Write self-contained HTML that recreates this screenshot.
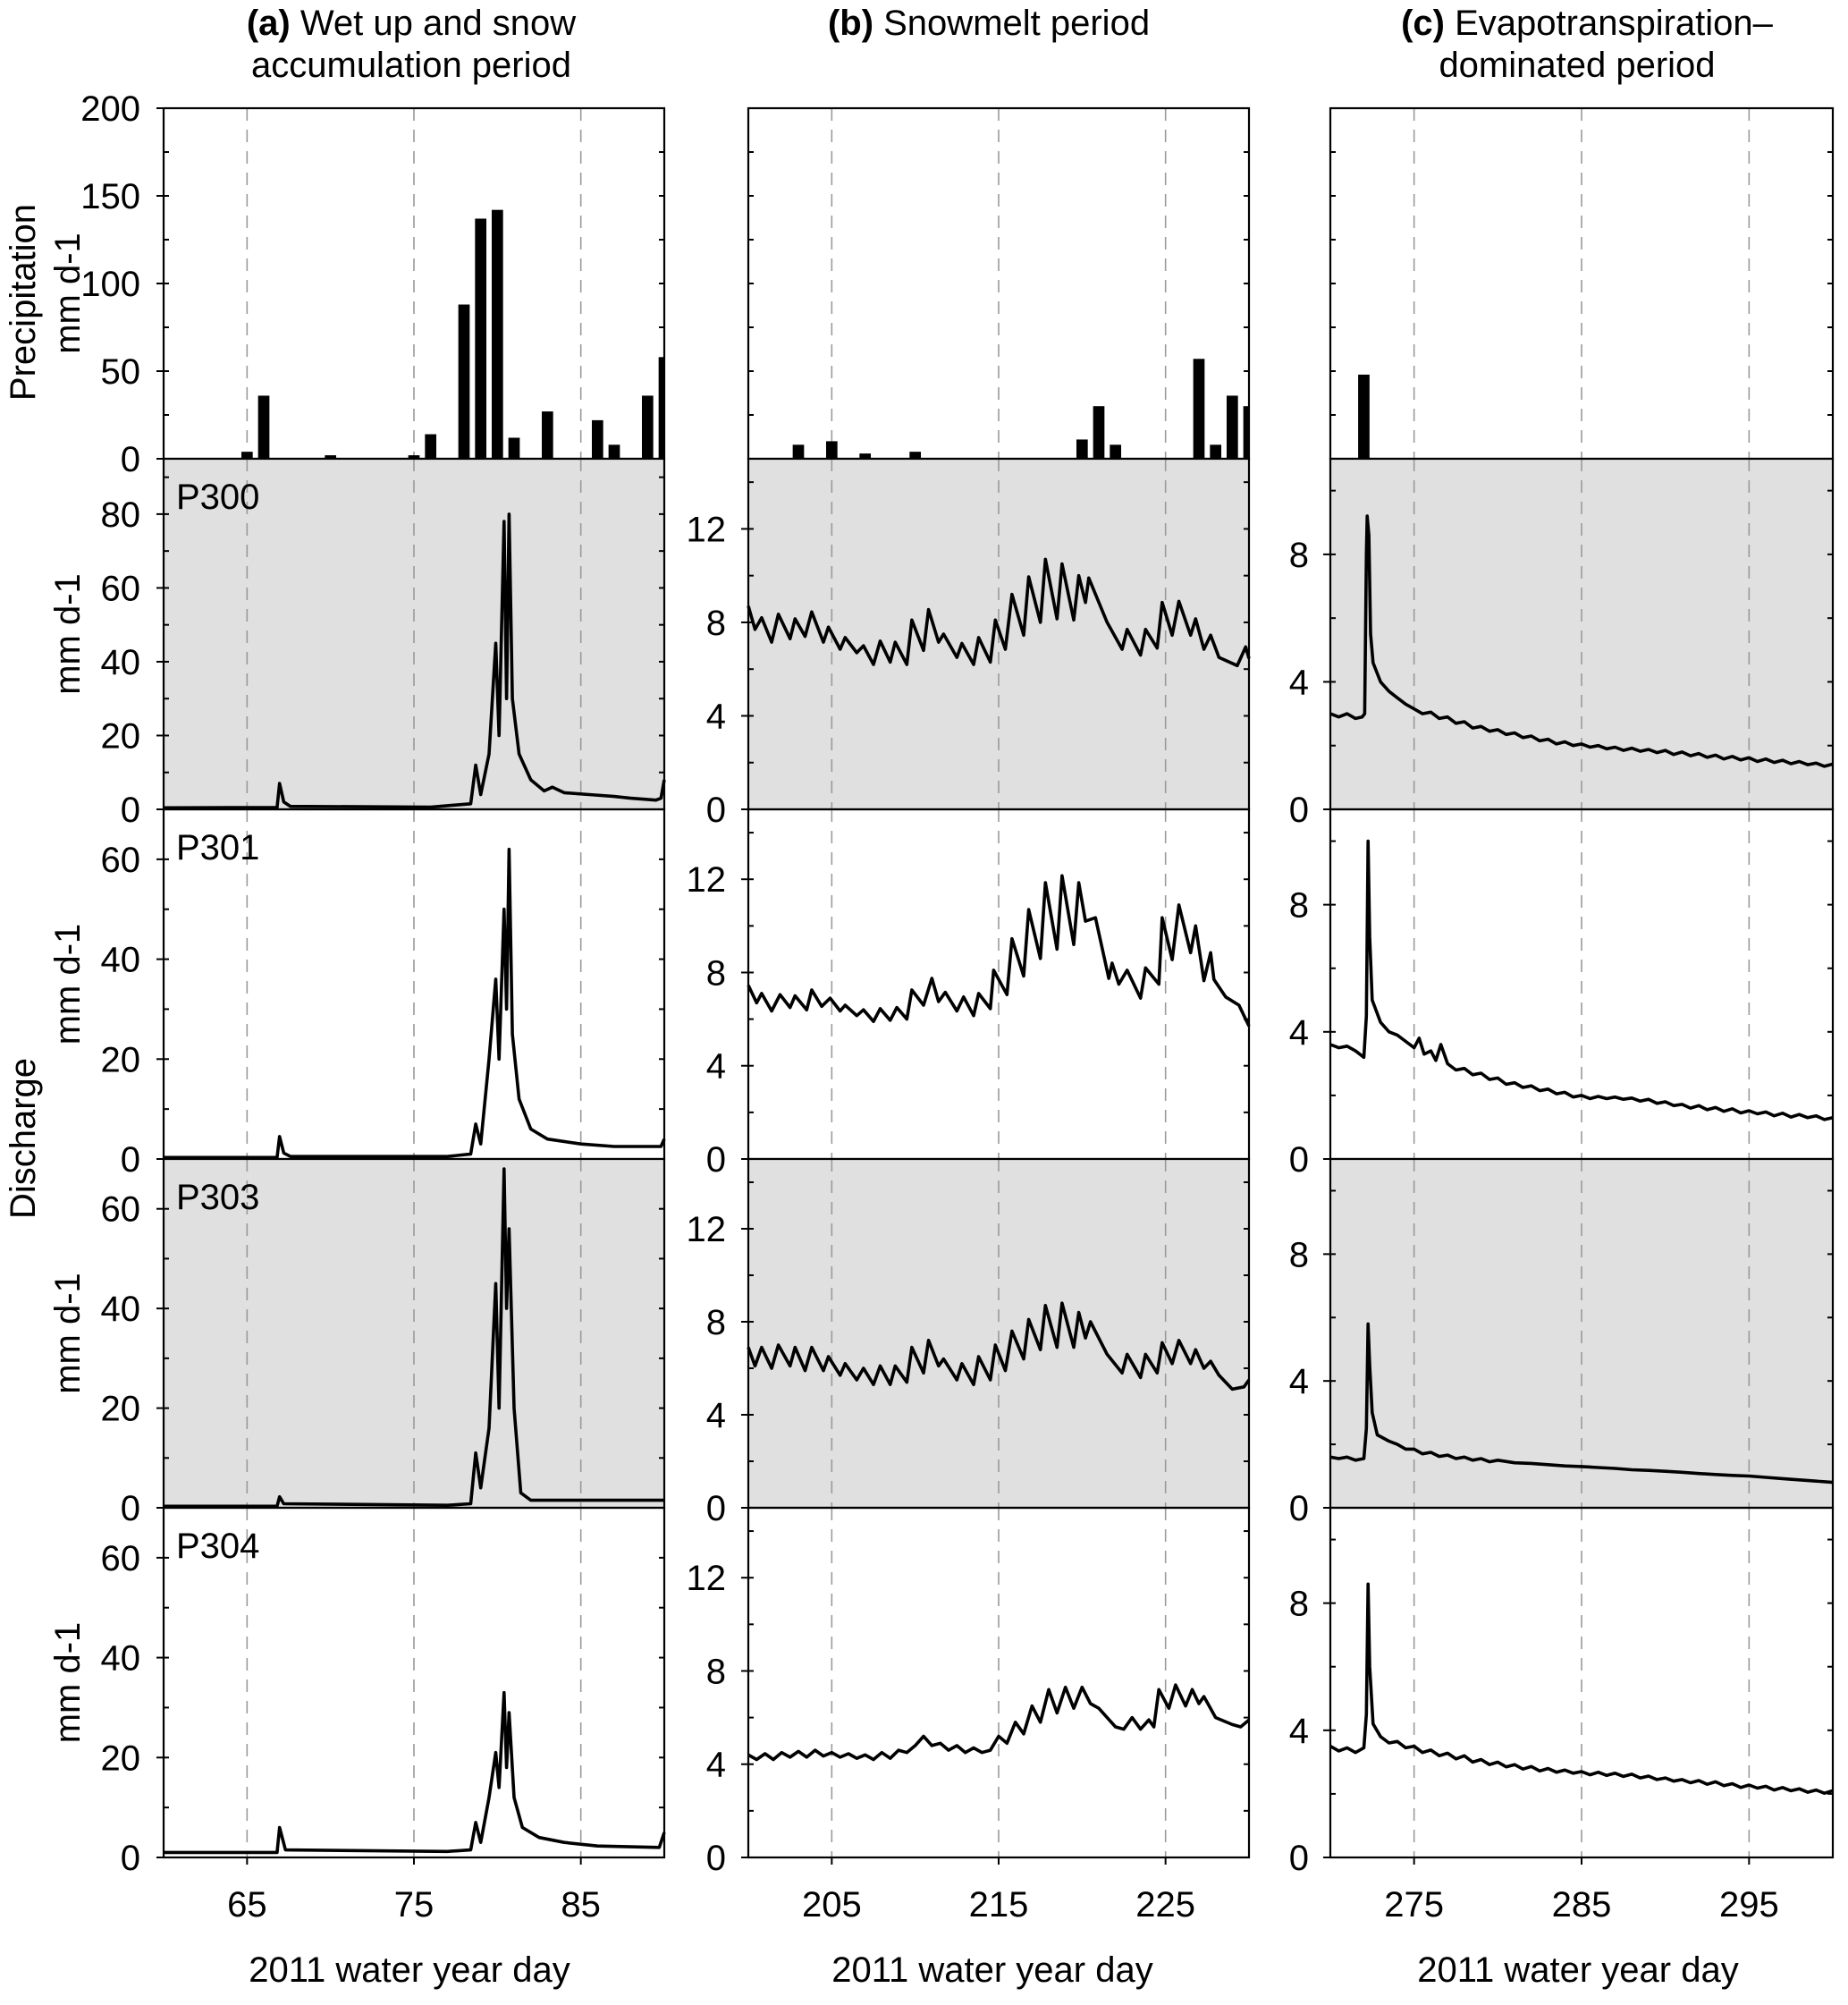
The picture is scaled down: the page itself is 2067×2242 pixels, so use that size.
<!DOCTYPE html>
<html><head><meta charset="utf-8">
<style>
html,body{margin:0;padding:0;background:#fff;}
svg{display:block;font-family:"Liberation Sans",Arial,sans-serif;}
</style></head>
<body>
<svg id="chart" width="2067" height="2242" viewBox="0 0 2067 2242" xmlns="http://www.w3.org/2000/svg">
<g id="titles" font-size="40" text-anchor="middle" fill="#000">
<text x="460" y="39"><tspan font-weight="bold">(a)</tspan> Wet up and snow</text>
<text x="460" y="86">accumulation period</text>
<text x="1106" y="39"><tspan font-weight="bold">(b)</tspan> Snowmelt period</text>
<text x="1775" y="39"><tspan font-weight="bold">(c)</tspan> Evapotranspiration–</text>
<text x="1764" y="86">dominated period</text>
</g>
<g font-size="40" fill="#000" text-anchor="middle">
<text transform="translate(39,338) rotate(-90)">Precipitation</text>
<text transform="translate(89,328) rotate(-90)">mm d-1</text>
<text transform="translate(39,1273) rotate(-90)">Discharge</text>
<text x="458" y="2216">2011 water year day</text>
<text x="1110" y="2216">2011 water year day</text>
<text x="1765" y="2216">2011 water year day</text>
</g>
<g id="plots"></g>
</svg>
<script>
// ---- data ----
const precipDaysA = [65,66,70,75,76,78,79,80,81,83,86,87,89,90];
const precipValsA = [4,36,2,2,14,88,137,142,12,27,22,8,36,58];
const precipDaysB = [203,205,207,210,220,221,222,227,228,229,230];
const precipValsB = [8,10,3,4,11,30,8,57,8,36,30];
const precipDaysC = [272];
const precipValsC = [48];

const xTicksA = [65,75,85];
const xTicksB = [205,215,225];
const xTicksC = [275,285,295];

const a300 = [[60,0.4],[66.8,0.5],[66.95,7],[67.2,2],[67.6,0.8],[76,0.6],[77,1],[78.4,1.5],[78.7,12],[79,4],[79.5,15],[79.9,45],[80.1,20],[80.4,78],[80.55,30],[80.7,80],[80.9,30],[81.3,15],[82,8],[82.8,5],[83.3,6],[84,4.5],[85.5,4],[87,3.5],[88,3],[89.5,2.5],[89.8,3],[90,8]];
const a301 = [[60,0.3],[66.8,0.3],[66.95,4.5],[67.2,1.2],[67.6,0.5],[77,0.5],[78.4,1],[78.7,7],[79,3],[79.5,20],[79.9,36],[80.1,20],[80.4,50],[80.55,30],[80.7,62],[80.9,25],[81.3,12],[82,6],[83,4],[85,3],[87,2.5],[89.8,2.5],[90,4]];
const a303 = [[60,0.3],[66.8,0.3],[66.95,2.2],[67.2,0.8],[77,0.5],[78.4,0.8],[78.7,11],[79,4],[79.5,16],[79.9,45],[80.1,20],[80.4,68],[80.55,40],[80.7,56],[81,20],[81.4,3],[82,1.5],[90,1.5]];
const a304 = [[60,1],[66.8,1],[66.95,6],[67.3,1.5],[77,1.2],[78.4,1.5],[78.7,7],[79,3],[79.5,12],[79.9,21],[80.1,14],[80.4,33],[80.55,18],[80.7,29],[81,12],[81.5,6],[82.5,4],[84,3],[86,2.3],[89.7,2],[90,5]];

const b300 = [[200,8.7],[200.4,7.7],[200.8,8.2],[201.4,7.15],[201.8,8.35],[202.5,7.3],[202.8,8.15],[203.4,7.4],[203.8,8.45],[204.5,7.15],[204.8,7.8],[205.5,6.85],[205.8,7.35],[206.5,6.7],[206.9,7.0],[207.5,6.2],[207.9,7.2],[208.5,6.3],[208.8,7.15],[209.5,6.2],[209.8,8.1],[210.5,6.8],[210.8,8.55],[211.4,7.15],[211.7,7.5],[212.5,6.5],[212.8,7.1],[213.5,6.2],[213.8,7.35],[214.5,6.3],[214.8,8.1],[215.4,6.85],[215.8,9.2],[216.5,7.45],[216.8,9.95],[217.5,8.0],[217.8,10.7],[218.5,8.15],[218.8,10.5],[219.5,8.1],[219.8,10.0],[220.2,8.85],[220.4,9.9],[221.5,8.0],[222.4,6.85],[222.7,7.7],[223.5,6.6],[223.8,7.7],[224.5,6.9],[224.8,8.85],[225.4,7.45],[225.8,8.9],[226.5,7.45],[226.8,8.15],[227.3,6.85],[227.7,7.45],[228.2,6.5],[229.3,6.15],[229.8,6.95],[230,6.45]];
const b301 = [[200,7.45],[200.5,6.7],[200.8,7.1],[201.4,6.35],[201.9,7.05],[202.5,6.5],[202.8,7.0],[203.5,6.4],[203.8,7.25],[204.4,6.55],[204.9,6.9],[205.5,6.35],[205.8,6.6],[206.5,6.15],[206.9,6.4],[207.5,5.9],[207.9,6.45],[208.5,5.95],[208.9,6.5],[209.5,6.0],[209.8,7.25],[210.5,6.6],[211.0,7.75],[211.4,6.75],[211.8,7.15],[212.5,6.35],[212.9,6.95],[213.5,6.15],[213.8,7.1],[214.5,6.45],[214.7,8.1],[215.5,7.05],[215.8,9.45],[216.5,7.85],[216.8,10.7],[217.5,8.6],[217.8,11.85],[218.5,9.0],[218.8,12.15],[219.5,9.2],[219.8,11.85],[220.2,10.2],[220.8,10.35],[221.6,7.75],[221.8,8.4],[222.2,7.5],[222.7,8.1],[223.5,6.9],[223.8,8.2],[224.6,7.5],[224.8,10.35],[225.4,8.55],[225.8,10.9],[226.5,8.85],[226.8,10.0],[227.3,7.65],[227.7,8.85],[227.9,7.7],[228.6,6.95],[229.4,6.6],[230,5.7]];
const b303 = [[200,6.9],[200.4,6.1],[200.8,6.9],[201.4,6.0],[201.8,7.0],[202.5,6.1],[202.8,6.9],[203.4,5.9],[203.8,6.9],[204.5,5.9],[204.8,6.5],[205.5,5.7],[205.8,6.2],[206.5,5.5],[206.9,6.0],[207.5,5.3],[207.9,6.1],[208.5,5.3],[208.8,6.1],[209.5,5.4],[209.8,6.9],[210.5,5.8],[210.8,7.2],[211.4,6.1],[211.7,6.4],[212.5,5.5],[212.8,6.2],[213.5,5.3],[213.8,6.5],[214.5,5.5],[214.8,7.0],[215.4,5.9],[215.8,7.6],[216.5,6.4],[216.8,8.1],[217.5,6.8],[217.8,8.7],[218.5,6.9],[218.8,8.8],[219.5,6.9],[219.8,8.4],[220.2,7.3],[220.5,8.0],[221.5,6.6],[222.4,5.8],[222.7,6.6],[223.5,5.6],[223.8,6.6],[224.5,5.8],[224.8,7.1],[225.4,6.2],[225.8,7.2],[226.5,6.2],[226.8,6.8],[227.3,6.0],[227.7,6.3],[228.2,5.7],[229.0,5.1],[229.7,5.2],[230,5.5]];
const b304 = [[200,4.4],[200.5,4.2],[201,4.45],[201.5,4.2],[202,4.5],[202.5,4.3],[203,4.55],[203.5,4.3],[204,4.6],[204.5,4.35],[205,4.5],[205.5,4.3],[206,4.45],[206.5,4.25],[207,4.4],[207.5,4.2],[208,4.5],[208.5,4.25],[209,4.6],[209.5,4.5],[210,4.8],[210.5,5.2],[211,4.8],[211.5,4.9],[212,4.6],[212.5,4.8],[213,4.5],[213.5,4.7],[214,4.5],[214.5,4.6],[215,5.2],[215.5,4.9],[216,5.8],[216.5,5.3],[217,6.5],[217.5,5.8],[218,7.2],[218.5,6.2],[219,7.3],[219.5,6.4],[220,7.3],[220.5,6.6],[221,6.4],[221.5,6.0],[222,5.6],[222.5,5.5],[223,6.0],[223.5,5.5],[224,5.9],[224.3,5.6],[224.6,7.2],[225.2,6.4],[225.6,7.4],[226.2,6.5],[226.6,7.2],[227,6.6],[227.3,6.9],[228,6.0],[229,5.7],[229.5,5.6],[230,5.9]];

const c300 = [[270,3.0],[270.5,2.9],[271,3.0],[271.5,2.85],[271.9,2.9],[272.05,3.0],[272.15,8.0],[272.2,9.2],[272.3,8.6],[272.4,5.5],[272.55,4.6],[273,4.0],[273.5,3.7],[274,3.5],[274.5,3.3],[275,3.15],[275.5,3.0],[276,3.05],[276.5,2.85],[277,2.9],[277.5,2.7],[278,2.75],[278.5,2.55],[279,2.6],[279.5,2.45],[280,2.5],[280.5,2.35],[281,2.4],[281.5,2.25],[282,2.3],[282.5,2.15],[283,2.2],[283.5,2.05],[284,2.12],[284.5,2.0],[285,2.05],[285.5,1.95],[286,2.0],[286.5,1.9],[287,1.95],[287.5,1.85],[288,1.92],[288.5,1.82],[289,1.88],[289.5,1.78],[290,1.85],[290.5,1.72],[291,1.8],[291.5,1.68],[292,1.75],[292.5,1.63],[293,1.7],[293.5,1.58],[294,1.66],[294.5,1.55],[295,1.62],[295.5,1.5],[296,1.58],[296.5,1.47],[297,1.54],[297.5,1.43],[298,1.5],[298.5,1.4],[299,1.45],[299.5,1.35],[300,1.42]];
const c301 = [[270,3.6],[270.5,3.5],[271,3.55],[271.5,3.4],[272,3.2],[272.15,4.5],[272.25,10.0],[272.35,7.0],[272.5,5.0],[273,4.3],[273.5,4.0],[274,3.9],[274.5,3.7],[275,3.5],[275.3,3.8],[275.6,3.3],[276,3.4],[276.3,3.1],[276.6,3.6],[277,3.0],[277.5,2.8],[278,2.85],[278.5,2.65],[279,2.7],[279.5,2.5],[280,2.55],[280.5,2.35],[281,2.4],[281.5,2.25],[282,2.3],[282.5,2.15],[283,2.2],[283.5,2.05],[284,2.1],[284.5,1.95],[285,2.0],[285.5,1.9],[286,1.97],[286.5,1.9],[287,1.95],[287.5,1.88],[288,1.92],[288.5,1.82],[289,1.88],[289.5,1.75],[290,1.8],[290.5,1.68],[291,1.72],[291.5,1.6],[292,1.68],[292.5,1.55],[293,1.62],[293.5,1.5],[294,1.58],[294.5,1.45],[295,1.52],[295.5,1.42],[296,1.48],[296.5,1.36],[297,1.44],[297.5,1.32],[298,1.4],[298.5,1.3],[299,1.36],[299.5,1.24],[300,1.3]];
const c303 = [[270,1.6],[270.5,1.55],[271,1.6],[271.5,1.5],[272,1.55],[272.15,2.5],[272.25,5.8],[272.35,4.5],[272.5,3.0],[272.8,2.3],[273.5,2.1],[274,2.0],[274.5,1.85],[275,1.85],[275.5,1.7],[276,1.75],[276.5,1.62],[277,1.66],[277.5,1.55],[278,1.6],[278.5,1.5],[279,1.55],[279.5,1.45],[280,1.5],[281,1.42],[282,1.4],[283,1.36],[284,1.32],[285,1.3],[286,1.27],[287,1.24],[288,1.2],[289,1.18],[290,1.15],[291,1.12],[292,1.08],[293,1.05],[294,1.02],[295,1.0],[296,0.96],[297,0.92],[298,0.88],[299,0.84],[300,0.8]];
const c304 = [[270,3.5],[270.5,3.35],[271,3.45],[271.5,3.3],[272,3.45],[272.15,4.5],[272.25,8.6],[272.35,6.0],[272.55,4.2],[273,3.8],[273.5,3.6],[274,3.65],[274.5,3.45],[275,3.5],[275.5,3.3],[276,3.38],[276.5,3.2],[277,3.28],[277.5,3.1],[278,3.2],[278.5,3.0],[279,3.08],[279.5,2.92],[280,3.0],[280.5,2.85],[281,2.92],[281.5,2.78],[282,2.86],[282.5,2.72],[283,2.8],[283.5,2.68],[284,2.75],[284.5,2.65],[285,2.7],[285.5,2.6],[286,2.68],[286.5,2.58],[287,2.65],[287.5,2.55],[288,2.62],[288.5,2.5],[289,2.56],[289.5,2.45],[290,2.5],[290.5,2.4],[291,2.45],[291.5,2.35],[292,2.42],[292.5,2.3],[293,2.38],[293.5,2.26],[294,2.32],[294.5,2.2],[295,2.28],[295.5,2.18],[296,2.24],[296.5,2.12],[297,2.2],[297.5,2.1],[298,2.16],[298.5,2.05],[299,2.12],[299.5,2.02],[300,2.1]];

const siteLabels = ["P300","P301","P303","P304"];

// ---- layout ----
const NS = "http://www.w3.org/2000/svg";
const cols = [{x0:183,x1:743,d0:60,d1:90,ticks:xTicksA},{x0:837,x1:1397,d0:200,d1:230,ticks:xTicksB},{x0:1488,x1:2050,d0:270,d1:300,ticks:xTicksC}];
const rows = [121,513,905,1296,1686,2077];
const yDom = [[200,200,200],[95,15,11],[70,15,11],[70,15,11],[70,15,11]];
const yTk = [[[0,50,100,150,200],[],[]],[[0,20,40,60,80],[0,4,8,12],[0,4,8]],[[0,20,40,60],[0,4,8,12],[0,4,8]],[[0,20,40,60],[0,4,8,12],[0,4,8]],[[0,20,40,60],[0,4,8,12],[0,4,8]]];
const yMinor = [[25,25,25],[10,2,2],[10,2,2],[10,2,2],[10,2,2]];
const series = [[a300,b300,c300],[a301,b301,c301],[a303,b303,c303],[a304,b304,c304]];
const precip = [[precipDaysA,precipValsA],[precipDaysB,precipValsB],[precipDaysC,precipValsC]];
const plots = document.getElementById('plots');
function mk(tag, attrs, parent){const e=document.createElementNS(NS,tag);for(const k in attrs)e.setAttribute(k,attrs[k]);(parent||plots).appendChild(e);return e;}

for(let r=0;r<5;r++){
  const yt=rows[r], yb=rows[r+1];
  for(let c=0;c<3;c++){
    const col=cols[c];
    const sx=d=>col.x0+(d-col.d0)/(col.d1-col.d0)*(col.x1-col.x0);
    const sy=v=>yb-v/yDom[r][c]*(yb-yt);
    const g=mk('g',{});
    
    
    if(r===1||r===3){
      const bg=mk('rect',{x:col.x0,y:yt,width:col.x1-col.x0,height:yb-yt,fill:'#e0e0e0'},g);
      
      
    }
    for(const t of col.ticks){
      const gl=mk('line',{x1:sx(t),x2:sx(t),y1:yt,y2:yb,stroke:'#9a9a9a','stroke-width':1.6,'stroke-dasharray':'14 10'},g);
      
      
    }
    for(let v=yMinor[r][c]; v<yDom[r][c]; v+=yMinor[r][c]){
      mk('line',{x1:col.x0,x2:col.x0+6,y1:sy(v),y2:sy(v),stroke:'#000','stroke-width':2},g);
      mk('line',{x1:col.x1,x2:col.x1-6,y1:sy(v),y2:sy(v),stroke:'#000','stroke-width':2},g);
    }
    if(r===0){
      const [days,vals]=precip[c];
      days.forEach((d,i)=>{
        let x0=sx(d-0.34), x1=sx(d+0.34);
        x0=Math.max(x0,col.x0); x1=Math.min(x1,col.x1);
        const b=mk('rect',{x:x0,y:sy(vals[i]),width:x1-x0,height:yb-sy(vals[i]),fill:'#000'},g);
        
        
      });
    } else {
      const s=series[r-1][c];
      const p=mk('path',{d:s.map((pt,i)=>(i?'L':'M')+sx(pt[0]).toFixed(1)+' '+sy(pt[1]).toFixed(1)).join(''),fill:'none',stroke:'#000','stroke-width':3.6,'stroke-linejoin':'round'},g);
      
      
    }
    const fr=mk('rect',{x:col.x0,y:yt,width:col.x1-col.x0,height:yb-yt,fill:'none',stroke:'#000','stroke-width':2.2},g);
    
    
    const labelX = [157,812,1464][c];
    for(const v of yTk[r][c]){
      mk('line',{x1:col.x0-8,x2:col.x0,y1:sy(v),y2:sy(v),stroke:'#000','stroke-width':2},g);
      const t=mk('text',{x:labelX,y:sy(v)+14,'font-size':40,'text-anchor':'end',fill:'#000'},g);
      t.textContent=v;
      
      
    }
    if(r>0 && c===0){
      const lab=mk('text',{x:197,y:yt+56,'font-size':40,fill:'#000'},g);
      lab.textContent=siteLabels[r-1];
      
      
      const u=mk('text',{'font-size':40,fill:'#000','text-anchor':'middle',transform:'translate(89,'+((yt+yb)/2)+') rotate(-90)'},g);
      u.textContent='mm d-1';
      
      
    }
    if(r===4){
      for(const t of col.ticks){
        mk('line',{x1:sx(t),x2:sx(t),y1:yb,y2:yb+8,stroke:'#000','stroke-width':2},g);
        const tl=mk('text',{x:sx(t),y:2143,'font-size':40,'text-anchor':'middle',fill:'#000'},g);
        tl.textContent=t;
        
        
      }
    }
  }
}
</script>
</body></html>
